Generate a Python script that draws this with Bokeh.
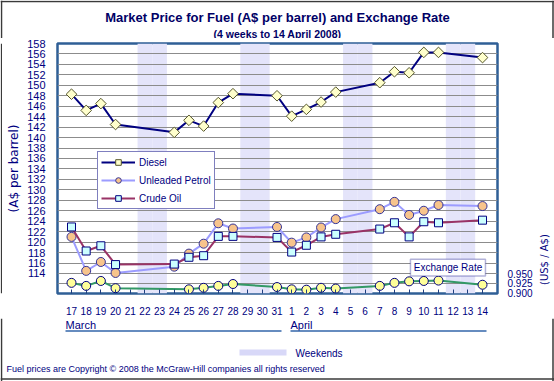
import numpy as np
import pandas as pd
from bokeh.plotting import figure
from bokeh.layouts import column, row
from bokeh.models import (Range1d, LinearAxis, FixedTicker, Legend, LegendItem, Label,
                          BoxAnnotation, NumeralTickFormatter)
from bokeh.core.properties import value
from bokeh.embed import file_html
from bokeh.resources import INLINE

# ---------------- data ----------------
start_date = "2008-03-17"
day_labels = ["17", "18", "19", "20", "21", "22", "23", "24", "25", "26", "27", "28", "29", "30", "31",
              "1", "2", "3", "4", "5", "6", "7", "8", "9", "10", "11", "12", "13", "14"]
month_labels = ["March", "April"]

price_dates = ["2008-03-17", "2008-03-18", "2008-03-19", "2008-03-20", "2008-03-24", "2008-03-25",
               "2008-03-26", "2008-03-27", "2008-03-28", "2008-03-31", "2008-04-01", "2008-04-02",
               "2008-04-03", "2008-04-04", "2008-04-07", "2008-04-08", "2008-04-09", "2008-04-10",
               "2008-04-11", "2008-04-14"]
diesel = [148.3, 145.2, 146.5, 142.5, 141.0, 143.3, 142.2, 146.7, 148.4, 148.0, 144.1, 145.4,
          146.8, 148.7, 150.5, 152.6, 152.4, 156.3, 156.3, 155.3]
petrol = [121.0, 114.5, 116.2, 114.1, 115.3, 117.8, 119.7, 123.6, 122.6, 122.9, 119.9, 120.9,
          122.8, 124.4, 126.3, 127.7, 125.2, 126.0, 127.1, 126.9]
crude = [122.9, 118.3, 119.3, 115.7, 115.8, 117.1, 117.4, 121.1, 121.1, 120.9, 118.1, 119.4,
         121.0, 121.5, 122.5, 123.7, 121.0, 123.9, 123.7, 124.2]

fx_dates = ["2008-03-17", "2008-03-18", "2008-03-19", "2008-03-20", "2008-03-25",
            "2008-03-26", "2008-03-27", "2008-03-28", "2008-03-31", "2008-04-01", "2008-04-02",
            "2008-04-03", "2008-04-04", "2008-04-07", "2008-04-08", "2008-04-09", "2008-04-10",
            "2008-04-11", "2008-04-14"]
exchange = [0.926, 0.918, 0.931, 0.912, 0.909, 0.913, 0.918, 0.923, 0.915, 0.909, 0.908,
            0.913, 0.911, 0.918, 0.926, 0.930, 0.931, 0.932, 0.921]

weekend_dates = ["2008-03-22", "2008-03-23", "2008-03-29", "2008-03-30",
                 "2008-04-05", "2008-04-06", "2008-04-12", "2008-04-13"]

left_ticks = list(range(114, 159, 2))
grid_ticks = list(range(112, 159, 2))
right_ticks = [0.900, 0.925, 0.950]

title_text = "Market Price for Fuel (A$ per barrel) and Exchange Rate"
subtitle_text = "(4 weeks to 14 April 2008)"
copyright_text = "Fuel prices are Copyright \u00a9 2008 the McGraw-Hill companies all rights reserved"


def day_index(dates):
    t0 = pd.Timestamp(start_date)
    return [(pd.Timestamp(d) - t0).days for d in dates]


px = day_index(price_dates)
fxx = day_index(fx_dates)
wk = np.array(day_index(weekend_dates))

# ---------------- style ----------------
NAVY = "#000080"
TXT = "#000080"
FRAME = "#2f5f96"
EDGE = "#3a3a3a"
W, H = 554, 381
HEAD_H, MAIN_H = 38, 280
FOOT_H = H - HEAD_H - MAIN_H
LEFT_W, STRIP_W = 2, 22


def canvas(width, height, x0, y0):
    f = figure(width=width, height=height, x_range=Range1d(x0, x0 + width),
               y_range=Range1d(y0, y0 + height),
               x_axis_type=None, y_axis_type=None, output_backend="svg", toolbar_location=None,
               min_border=0, outline_line_color=None, background_fill_color="white",
               border_fill_color="white")
    return f


# ---------------- header ----------------
head = canvas(W, HEAD_H, 0, H - HEAD_H)
head.text(x=[277], y=[H - 16.5], text=[title_text], text_align="center", text_baseline="middle",
          text_font=value("Liberation Sans"), text_font_style="bold", text_font_size="13px",
          text_color="#000066")
head.text(x=[277], y=[H - 33], text=[subtitle_text], text_align="center", text_baseline="middle",
          text_font=value("Liberation Sans"), text_font_style="bold", text_font_size="10.5px",
          text_color="#000066")
head.segment(x0=[0, 1, 552.5], y0=[H - 1, H, H], x1=[W, 1, 552.5], y1=[H - 1, H - HEAD_H, H - HEAD_H],
             line_color=EDGE, line_width=1.5)

# ---------------- left edge strip ----------------
left = canvas(LEFT_W, MAIN_H, 0, H - HEAD_H - MAIN_H)
left.segment(x0=[1], y0=[H - HEAD_H - MAIN_H], x1=[1], y1=[H - HEAD_H], line_color=EDGE, line_width=1.5)

# ---------------- main chart ----------------
Y0, Y1 = 110.17, 158.0
p = figure(frame_width=440, frame_height=250,
           x_range=Range1d(-0.954, 29.02), y_range=Range1d(Y0, Y1),
           output_backend="svg", toolbar_location=None,
           min_border_left=57 - LEFT_W, min_border_right=35, min_border_top=5, min_border_bottom=25,
           background_fill_color="white", border_fill_color="white",
           outline_line_color=FRAME, outline_line_width=2.5)
p.extra_y_ranges = {"fx": Range1d(0.898, 1.556)}

wk_r = p.quad(left=wk - 0.5, right=wk + 0.5, bottom=Y0, top=Y1,
              fill_color="#e4e4fa", line_color=None, level="image")

p.xgrid.visible = False
p.ygrid.ticker = FixedTicker(ticks=grid_ticks)
p.ygrid.grid_line_color = "#8c8c8c"
p.ygrid.grid_line_width = 1

xa = p.xaxis[0]
xa.ticker = FixedTicker(ticks=list(range(len(day_labels))))
xa.major_label_overrides = {i: s for i, s in enumerate(day_labels)}
xa.major_tick_in = 4
xa.major_tick_out = 0
xa.major_tick_line_color = "#1f3f7f"
xa.minor_tick_line_color = None
xa.axis_line_color = None
xa.major_label_standoff = 13
xa.major_label_text_font = "Liberation Sans"
xa.major_label_text_font_size = "10px"
xa.major_label_text_color = TXT

ya = p.yaxis[0]
ya.ticker = FixedTicker(ticks=left_ticks)
ya.major_tick_in = 0
ya.major_tick_out = 0
ya.minor_tick_line_color = None
ya.axis_line_color = None
ya.major_label_standoff = 12
ya.major_label_text_font = "Liberation Sans"
ya.major_label_text_font_size = "11px"
ya.major_label_text_color = TXT
ya.axis_label = "(A$ per barrel)"
ya.axis_label_text_font = "DejaVu Sans"
ya.axis_label_text_font_style = "normal"
ya.axis_label_text_font_size = "12px"
ya.axis_label_text_color = TXT
ya.axis_label_standoff = 3

ra = LinearAxis(y_range_name="fx", ticker=FixedTicker(ticks=right_ticks),
                formatter=NumeralTickFormatter(format="0.000"))
ra.major_tick_in = 0
ra.major_tick_out = 0
ra.minor_tick_line_color = None
ra.axis_line_color = None
ra.major_label_standoff = 10
ra.major_label_text_font = "Liberation Sans"
ra.major_label_text_font_size = "10px"
ra.major_label_text_color = TXT
p.add_layout(ra, "right")

d_l = p.line(px, diesel, line_color=NAVY, line_width=2)
d_s = p.scatter(px, diesel, marker="square", angle=np.pi / 4, size=7.5,
                fill_color="#ffffcc", line_color="#55552a", line_width=1)
u_l = p.line(px, petrol, line_color="#9c9cff", line_width=2)
u_s = p.scatter(px, petrol, marker="circle", size=9,
                fill_color="#f7c48c", line_color="#333399", line_width=1)
c_l = p.line(px, crude, line_color="#993366", line_width=2)
c_s = p.scatter(px, crude, marker="square", size=8,
                fill_color="#ccffff", line_color=NAVY, line_width=1)
e_l = p.line(fxx, exchange, y_range_name="fx", line_color="#339966", line_width=2)
e_s = p.scatter(fxx, exchange, y_range_name="fx", marker="circle", size=9,
                fill_color="#ffff99", line_color=NAVY, line_width=1)

legend = Legend(items=[LegendItem(label="Diesel", renderers=[d_l, d_s]),
                       LegendItem(label="Unleaded Petrol", renderers=[u_l, u_s]),
                       LegendItem(label="Crude Oil", renderers=[c_l, c_s])],
                location=(40, 84), glyph_width=34, glyph_height=14, label_height=14,
                spacing=4, padding=3, margin=0, label_standoff=4,
                label_text_font="Liberation Sans", label_text_font_size="10px",
                label_text_color=TXT, border_line_color=NAVY, border_line_width=1.5,
                background_fill_color="white", background_fill_alpha=1.0)
p.add_layout(legend)

p.add_layout(BoxAnnotation(left=23.09, right=28.2, bottom=113.5, top=116.7,
                           fill_color="white", fill_alpha=1.0, line_color=NAVY, line_width=1.5))
p.add_layout(Label(x=25.65, y=115.1, text="Exchange Rate", text_align="center",
                   text_baseline="middle", text_font="Liberation Sans", text_font_size="10px",
                   text_color=TXT))

# ---------------- right strip with the rotated axis title ----------------
strip = canvas(STRIP_W, MAIN_H, W - STRIP_W, H - HEAD_H - MAIN_H)
strip.text(x=[541], y=[H - 280], text=["(US$ / A$)"], angle=np.pi / 2, text_align="center",
           text_baseline="middle", text_font=value("DejaVu Sans"), text_font_size="10px",
           text_color=TXT)
strip.segment(x0=[552.5], y0=[H - HEAD_H - MAIN_H], x1=[552.5], y1=[H - HEAD_H],
              line_color=EDGE, line_width=1.5)

# ---------------- footer ----------------
foot = canvas(W, FOOT_H, 0, 0)
foot.text(x=[65, 290], y=[H - 324, H - 324], text=month_labels, text_align="left",
          text_baseline="middle", text_font=value("Liberation Sans"), text_font_size="11px",
          text_color=TXT)
foot.segment(x0=[65, 290], y0=[H - 330.5, H - 330.5], x1=[281, 486], y1=[H - 330.5, H - 330.5],
             line_color="#3366aa", line_width=1.5)
foot.quad(left=[239], right=[286], bottom=[H - 355], top=[H - 349],
          fill_color="#d8d8f8", line_color=None)
foot.text(x=[295], y=[H - 352.5], text=["Weekends"], text_align="left", text_baseline="middle",
          text_font=value("Liberation Sans"), text_font_size="10px", text_color=TXT)
foot.text(x=[6], y=[H - 368], text=[copyright_text], text_align="left", text_baseline="middle",
          text_font=value("Liberation Sans"), text_font_size="9px", text_color=TXT)
foot.segment(x0=[1, 552.5, 0], y0=[0, 0, 2.5], x1=[1, 552.5, W], y1=[FOOT_H, FOOT_H, 2.5],
             line_color=EDGE, line_width=1.5)

layout = column(head, row(left, p, strip, spacing=0), foot, spacing=0)
open("out.html", "w").write(file_html(layout, INLINE))
